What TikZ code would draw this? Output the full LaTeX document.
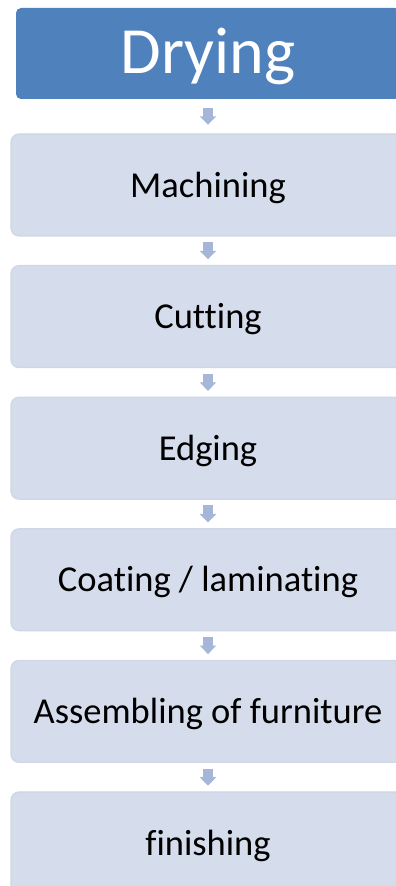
\documentclass[tikz,border=0pt]{standalone}
\usepackage{fontspec}
\setmainfont{Carlito}[Ligatures={NoCommon,NoRequired,NoContextual}]
\usetikzlibrary{calc,arrows.meta}
\definecolor{headblue}{RGB}{79,129,189}
\definecolor{stepfill}{RGB}{213,220,235}
\definecolor{stepline}{RGB}{206,214,231}
\definecolor{flowarrow}{RGB}{166,182,216}
% lower a label a little without changing the box it sits in
\newcommand{\lowered}[1]{\raisebox{-2.5pt}[\height][\depth]{#1}}
\begin{document}
\begin{tikzpicture}[x=1pt,y=1pt,
  headbox/.style={rounded corners=5pt, fill=headblue, text=white,
    minimum width=384pt, minimum height=91pt, inner sep=0pt,
    font=\fontsize{66}{70}\selectfont},
  stepbox/.style={rounded corners=8pt, fill=stepfill, draw=stepline,
    line width=1.2pt, minimum width=394pt, minimum height=102pt,
    inner sep=0pt, font=\fontsize{36.5}{40}\selectfont},
  flow/.style={draw=flowarrow, line width=10.6pt,
    -{Triangle[width=16pt,length=8.5pt]}}
]
\useasboundingbox (0,0) rectangle (396,886);
\clip (0,0) rectangle (396,886);

% process stages, top to bottom
\node[headbox] (dry) at (208,832.5) {\lowered{Drying}};
\node[stepbox] (mach) at (208,701)   {\lowered{Machining}};
\node[stepbox] (cut)  at (208,569.4) {\lowered{Cutting}};
\node[stepbox] (edge) at (208,437.8) {\lowered{Edging}};
\node[stepbox] (coat) at (208,306.2) {\lowered{Coating / laminating}};
\node[stepbox] (asm)  at (208,174.6) {\lowered{Assembling of furniture}};
\node[stepbox] (fin)  at (208,43)    {\lowered{finishing}};

% short block arrows centred in each gap
\foreach \a/\b in {dry/mach, mach/cut, cut/edge, edge/coat, coat/asm, asm/fin}{
  \coordinate (m) at ($(\a.south)!0.5!(\b.north)$);
  \draw[flow] ($(m)+(0,8.5)$) -- ($(m)+(0,-8.5)$);
}
\end{tikzpicture}
\end{document}
